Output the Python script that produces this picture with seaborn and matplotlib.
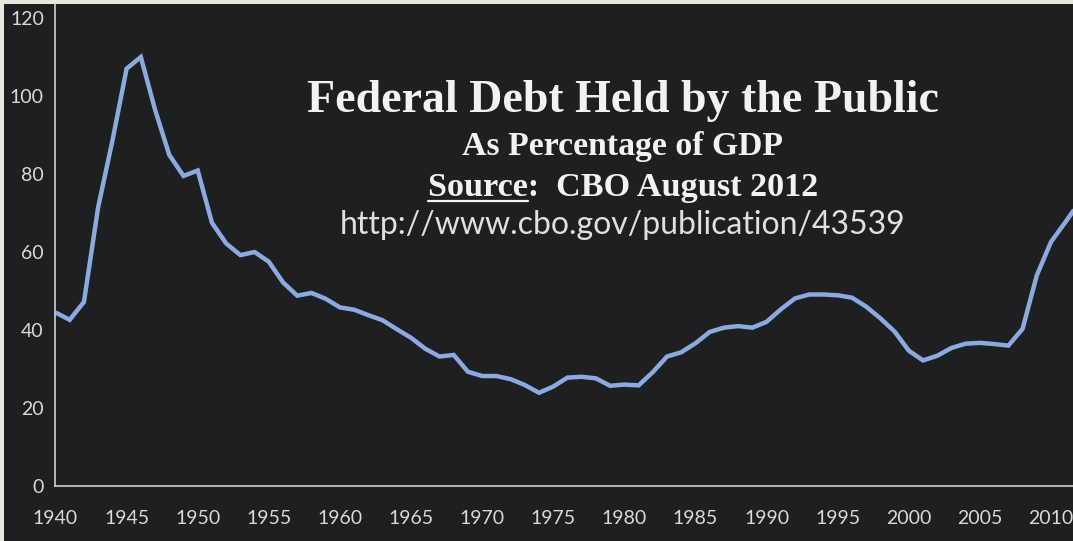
import matplotlib
matplotlib.use("Agg")
import matplotlib.pyplot as plt
from matplotlib.lines import Line2D
from matplotlib.patches import Rectangle
import seaborn as sns

# Federal debt held by the public, percent of GDP (CBO, August 2012)
years = list(range(1940, 2013))
debt_pct_gdp = [
    44.5, 42.6, 47.2, 71.5, 88.5, 107.0, 110.0, 96.5, 84.9, 79.5,   # 1940s
    80.9, 67.5, 62.2, 59.2, 60.0, 57.5, 52.2, 48.8, 49.5, 48.0,     # 1950s
    45.8, 45.2, 43.8, 42.5, 40.2, 38.0, 35.2, 33.2, 33.6, 29.3,     # 1960s
    28.2, 28.2, 27.4, 25.9, 23.9, 25.5, 27.8, 28.0, 27.6, 25.7,     # 1970s
    26.0, 25.8, 29.2, 33.2, 34.3, 36.6, 39.5, 40.6, 41.0, 40.6,     # 1980s
    42.1, 45.3, 48.1, 49.1, 49.1, 48.9, 48.3, 46.0, 43.0, 39.6,     # 1990s
    34.7, 32.2, 33.4, 35.4, 36.5, 36.7, 36.4, 36.0, 40.3, 54.0,     # 2000s
    62.6, 67.6, 72.8,                                               # 2010-2012
]
x_ticks = list(range(1940, 2011, 5))
y_ticks = [0, 20, 40, 60, 80, 100, 120]

title = "Federal Debt Held by the Public"
subtitle = "As Percentage of GDP"
source_word = "Source"
source_rest = ":  CBO August 2012"
url = "http://www.cbo.gov/publication/43539"

BG = "#1e1f21"
FG = "#d9d9d9"
LINE = "#8caae0"
EDGE = "#e9e6df"

sns.set_theme(style="dark", rc={
    "axes.facecolor": BG,
    "figure.facecolor": BG,
    "axes.edgecolor": "#cfcfcf",
    "xtick.color": "#cfcfcf",
    "ytick.color": "#cfcfcf",
    "text.color": FG,
})
plt.rcParams["font.family"] = ["Lato", "DejaVu Sans"]

W, H = 1073, 541
fig = plt.figure(figsize=(W / 100, H / 100), dpi=100)
# thin light margin along the left and top edges of the page
fig.patches.append(Rectangle((0, 0), 4 / W, 1, transform=fig.transFigure,
                             facecolor=EDGE, edgecolor="none", zorder=-1))
fig.patches.append(Rectangle((0, 1 - 4 / H), 1, 4 / H,
                             transform=fig.transFigure, facecolor=EDGE,
                             edgecolor="none", zorder=-1))

left_px, bottom_px, top_px = 55, 486, 4
ax = fig.add_axes([left_px / W, (H - bottom_px) / H,
                   (W - left_px) / W, (bottom_px - top_px) / H])

sns.lineplot(x=years, y=debt_pct_gdp, ax=ax, color=LINE, linewidth=3.2,
             solid_joinstyle="miter", solid_capstyle="butt")

px_per_year = (1051 - 54.5) / 70
ax.set_xlim(1940 - 0.5 / px_per_year, 1940 + (W - 54.5) / px_per_year)
ax.set_ylim(0, (bottom_px - top_px) / 3.9)
ax.set_xticks(x_ticks)
ax.set_yticks(y_ticks)
ax.set_xticklabels([str(v) for v in x_ticks], fontsize=14, color=FG)
ax.set_yticklabels([str(v) for v in y_ticks], fontsize=14, color=FG)
ax.tick_params(axis="x", direction="in", length=7, width=1, pad=17)
ax.tick_params(axis="y", direction="in", length=4.5, width=1, pad=8)
ax.grid(False)
for side in ("top", "right"):
    ax.spines[side].set_visible(False)
for side in ("left", "bottom"):
    ax.spines[side].set_linewidth(1.2)
ax.set_xlabel("")
ax.set_ylabel("")

cx = 623 / W
serif = ["Liberation Serif", "DejaVu Serif"]
fig.text(cx, 1 - 112 / H, title, ha="center", va="baseline",
         fontsize=33, fontweight="bold", family=serif, color="#f2f2f2")
fig.text(cx, 1 - 155 / H, subtitle, ha="center", va="baseline",
         fontsize=24.3, fontweight="bold", family=serif, color="#f2f2f2")
src = fig.text(cx, 1 - 196 / H, source_word + source_rest, ha="center",
               va="baseline", fontsize=24.6, fontweight="bold", family=serif,
               color="#f2f2f2")
fig.text(cx, 1 - 234 / H, url, ha="center", va="baseline",
         fontsize=23, family=["Lato", "DejaVu Sans"], color="#e0e0e0")

# underline the word "Source"
fig.canvas.draw()
renderer = fig.canvas.get_renderer()
bb = src.get_window_extent(renderer)
probe = fig.text(0, 0, source_word, fontsize=24.6, fontweight="bold",
                 family=serif)
w_word = probe.get_window_extent(renderer).width
probe.remove()
uy = 1 - 201.5 / H
fig.add_artist(Line2D([bb.x0 / W, (bb.x0 + w_word) / W], [uy, uy],
                      transform=fig.transFigure, color="#f2f2f2",
                      linewidth=1.6))

fig.savefig("out.png", dpi=100, facecolor=fig.get_facecolor())
